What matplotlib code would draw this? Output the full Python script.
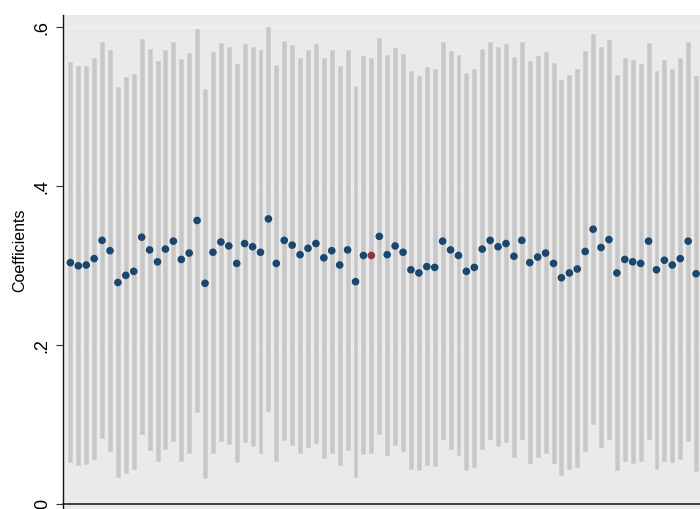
import matplotlib
matplotlib.use("Agg")
import matplotlib.pyplot as plt
import numpy as np

plt.rcParams["font.family"] = ["Liberation Sans", "DejaVu Sans"]

# Point estimates for each specification
coef = [
    0.304, 0.300, 0.301, 0.309, 0.332, 0.319, 0.279, 0.288, 0.293, 0.336,
    0.320, 0.305, 0.321, 0.331, 0.308, 0.316, 0.357, 0.278, 0.317, 0.330,
    0.325, 0.303, 0.328, 0.324, 0.317, 0.359, 0.303, 0.332, 0.326, 0.314,
    0.322, 0.328, 0.310, 0.319, 0.301, 0.320, 0.280, 0.313, 0.313, 0.337,
    0.314, 0.325, 0.317, 0.295, 0.291, 0.299, 0.298, 0.331, 0.320, 0.313,
    0.293, 0.298, 0.321, 0.332, 0.324, 0.328, 0.312, 0.332, 0.304, 0.311,
    0.316, 0.303, 0.285, 0.291, 0.296, 0.318, 0.346, 0.323, 0.333, 0.291,
    0.308, 0.305, 0.303, 0.331, 0.295, 0.307, 0.301, 0.309, 0.331, 0.290,
    0.313,
]

# Upper bounds of the confidence intervals
ci_hi = [
    0.556, 0.551, 0.551, 0.562, 0.582, 0.571, 0.525, 0.537, 0.541, 0.585,
    0.573, 0.557, 0.572, 0.582, 0.560, 0.568, 0.598, 0.522, 0.569, 0.580,
    0.575, 0.554, 0.579, 0.575, 0.571, 0.600, 0.553, 0.583, 0.578, 0.562,
    0.572, 0.579, 0.562, 0.572, 0.551, 0.572, 0.526, 0.564, 0.562, 0.586,
    0.565, 0.574, 0.566, 0.545, 0.539, 0.550, 0.548, 0.581, 0.570, 0.565,
    0.543, 0.548, 0.573, 0.582, 0.575, 0.579, 0.563, 0.582, 0.557, 0.564,
    0.569, 0.555, 0.534, 0.540, 0.547, 0.570, 0.591, 0.575, 0.584, 0.540,
    0.561, 0.559, 0.554, 0.580, 0.545, 0.559, 0.548, 0.562, 0.582, 0.539,
    0.555,
]

# Lower bounds of the confidence intervals
ci_lo = [
    0.053, 0.049, 0.051, 0.057, 0.083, 0.067, 0.034, 0.040, 0.045, 0.088,
    0.068, 0.054, 0.069, 0.080, 0.055, 0.065, 0.116, 0.033, 0.065, 0.079,
    0.076, 0.053, 0.078, 0.073, 0.065, 0.117, 0.054, 0.081, 0.075, 0.065,
    0.072, 0.077, 0.058, 0.065, 0.050, 0.068, 0.034, 0.063, 0.065, 0.088,
    0.062, 0.075, 0.067, 0.044, 0.043, 0.049, 0.048, 0.082, 0.069, 0.062,
    0.043, 0.047, 0.069, 0.082, 0.073, 0.078, 0.060, 0.082, 0.052, 0.059,
    0.065, 0.052, 0.037, 0.044, 0.047, 0.067, 0.101, 0.072, 0.082, 0.043,
    0.055, 0.052, 0.054, 0.082, 0.045, 0.055, 0.053, 0.057, 0.080, 0.042,
    0.072,
]

highlight = 38  # specification drawn in red

y_ticks = [0, 0.2, 0.4, 0.6]
y_tick_labels = ["0", ".2", ".4", ".6"]

# ---- layout (pixels) ----
W, H = 700, 509
left_px = 62.5
step_px = 7.92          # horizontal distance between specifications
first_px = 70.4
top_px = 15.0
zero_px = 504.3         # pixel row of y = 0 (from top)
unit_px = 795.0         # pixels per 1.0 on the y scale

x0 = -(first_px - left_px) / step_px
x1 = 86
y_top = (zero_px - top_px) / unit_px
y_bot = -0.02

fig = plt.figure(figsize=(W / 100, H / 100), dpi=100)
ax_w = (x1 - x0) * step_px / W
ax_h = (y_top - y_bot) * unit_px / H
ax_bottom = (H - zero_px + y_bot * unit_px) / H
ax = fig.add_axes([left_px / W, ax_bottom, ax_w, ax_h])
ax.set_xlim(x0, x1)
ax.set_ylim(y_bot, y_top)
ax.set_facecolor("#eaeaea")

x = np.arange(len(coef))
coef_a = np.array(coef)
lo = np.array(ci_lo)
hi = np.array(ci_hi)

for gy in [0.2, 0.4, 0.6]:
    ax.axhline(gy, color="#eff2f2", lw=0.9, zorder=0.5)

ax.bar(x, hi - lo, bottom=lo, width=0.5, color="#c7c7c7",
       edgecolor="#cdcdcd", linewidth=0.4, zorder=1)

colors = ["#1a476f"] * len(coef)
colors[highlight] = "#90353b"
ax.scatter(x, coef_a, s=30, c=colors, edgecolors="none", zorder=3)

ax.set_yticks(y_ticks)
ax.set_yticklabels(y_tick_labels)
ax.tick_params(axis="y", length=7.5 * 0.72, width=0.8, color="#333333",
               pad=3.0, labelsize=13, labelrotation=90)
for lab in ax.get_yticklabels():
    lab.set_va("center")
ax.set_xticks([])

for s in ["top", "right"]:
    ax.spines[s].set_visible(False)
ax.spines["bottom"].set_position(("data", 0))
ax.spines["bottom"].set_color("#222222")
ax.spines["bottom"].set_linewidth(1.2)
ax.spines["left"].set_color("#111111")
ax.spines["left"].set_linewidth(1.0)

fig.text(20 / W, 1 - 250 / H, "Coefficients", rotation=90,
         ha="center", va="center", fontsize=11.5)

fig.savefig("out.png", dpi=100)
